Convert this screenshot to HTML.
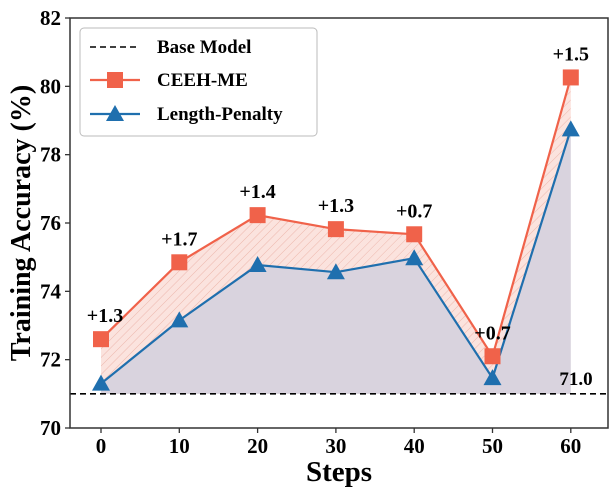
<!DOCTYPE html>
<html><head><meta charset="utf-8"><style>
body{margin:0;background:#fff;}
svg text{font-family:"Liberation Serif",serif;font-weight:bold;}
</style></head><body>
<svg id="c" width="612" height="489" viewBox="0 0 612 489">
<defs>
<pattern id="hatch" width="6" height="6" patternUnits="userSpaceOnUse" patternTransform="rotate(45)">
<rect width="6" height="6" fill="#fbe3de"/>
<line x1="0" y1="0" x2="0" y2="6" stroke="#e8a496" stroke-width="0.7"/>
</pattern>
</defs>
<g id="plot"></g>
</svg>
<script>
const steps=[0,10,20,30,40,50,60];
const ceeh=[72.6,74.85,76.23,75.82,75.67,72.1,80.26];
const lp=[71.3,73.15,74.77,74.56,74.97,71.46,78.74];
const gains=["+1.3","+1.7","+1.4","+1.3","+0.7","+0.7","+1.5"];
const yTicks=[70,72,74,76,78,80,82];
const xTicks=[0,10,20,30,40,50,60];
const baseVal=71.0;
const NS="http://www.w3.org/2000/svg";
const L=70,R=608,T=18,B=428;
const x=v=>101+v*7.83;
const y=v=>B-(v-70)*(B-T)/12;
const g=document.getElementById('plot');
function mk(t,a,p){const e=document.createElementNS(NS,t);for(const k in a)e.setAttribute(k,a[k]);(p||g).appendChild(e);return e;}
let pts=steps.map((s,i)=>x(s)+","+y(lp[i])).join(" ");
let e=mk('polygon',{points:x(steps[0])+","+y(baseVal)+" "+pts+" "+x(steps[steps.length-1])+","+y(baseVal),fill:"#d9d3de"});

let up=steps.map((s,i)=>x(s)+","+y(ceeh[i])).join(" ");
let dn=steps.map((s,i)=>x(s)+","+y(lp[i])).reverse().join(" ");
e=mk('polygon',{points:up+" "+dn,fill:"url(#hatch)"});

e=mk('line',{x1:L,x2:R,y1:y(baseVal),y2:y(baseVal),stroke:"#000","stroke-width":1.6,"stroke-dasharray":"6,4"});

e=mk('text',{x:576,y:y(baseVal)-9,"font-size":19,"text-anchor":"middle"});e.textContent=baseVal.toFixed(1);

e=mk('polyline',{points:pts,fill:"none",stroke:"#1f6fae","stroke-width":2.2});

e=mk('polyline',{points:up,fill:"none",stroke:"#f0624a","stroke-width":2.2});

steps.forEach((s,i)=>{
 const cx=x(s),cy=y(lp[i]);
 let m=mk('polygon',{points:`${cx},${cy-9} ${cx-9},${cy+7} ${cx+9},${cy+7}`,fill:"#1f6fae"});
 
 const qy=y(ceeh[i]);
 m=mk('rect',{x:cx-8,y:qy-8,width:16,height:16,fill:"#f0624a"});
 
 m=mk('text',{x:cx+(i==0?4:0),y:qy-17,"font-size":20,"text-anchor":"middle"});m.textContent=gains[i];
 
});
e=mk('rect',{x:L,y:T,width:R-L,height:B-T,fill:"none",stroke:"#333","stroke-width":1.5});

yTicks.forEach(v=>{
 mk('line',{x1:L-5,x2:L,y1:y(v),y2:y(v),stroke:"#333","stroke-width":1.3});
 let t=mk('text',{x:L-9,y:y(v)+7,"font-size":21,"text-anchor":"end"});t.textContent=v;
 
});
xTicks.forEach(v=>{
 mk('line',{x1:x(v),x2:x(v),y1:B,y2:B+5,stroke:"#333","stroke-width":1.3});
 let t=mk('text',{x:x(v),y:B+25,"font-size":21,"text-anchor":"middle"});t.textContent=v;
 
});
e=mk('text',{x:339,y:481,"font-size":29,"text-anchor":"middle"});e.textContent="Steps";

e=mk('text',{x:0,y:0,"font-size":28,"text-anchor":"middle",transform:`translate(30,${(T+B)/2}) rotate(-90)`});e.textContent="Training Accuracy (%)";

const lg=mk('g',{});
mk('rect',{x:80,y:28,width:237,height:108,rx:4,fill:"#fff",stroke:"#bbb","stroke-width":1},lg);
mk('line',{x1:90,x2:140,y1:47,y2:47,stroke:"#000","stroke-width":1.6,"stroke-dasharray":"6,4"},lg);
mk('line',{x1:90,x2:140,y1:80,y2:80,stroke:"#f0624a","stroke-width":2.2},lg);
mk('rect',{x:107,y:72,width:16,height:16,fill:"#f0624a"},lg);
mk('line',{x1:90,x2:140,y1:114,y2:114,stroke:"#1f6fae","stroke-width":2.2},lg);
mk('polygon',{points:"115,105 106,121 124,121",fill:"#1f6fae"},lg);
[["Base Model",53],["CEEH-ME",86],["Length-Penalty",120]].forEach(([s,yy])=>{
 let t=mk('text',{x:157,y:yy,"font-size":19},lg);t.textContent=s;
 
});
</script>
</body></html>
